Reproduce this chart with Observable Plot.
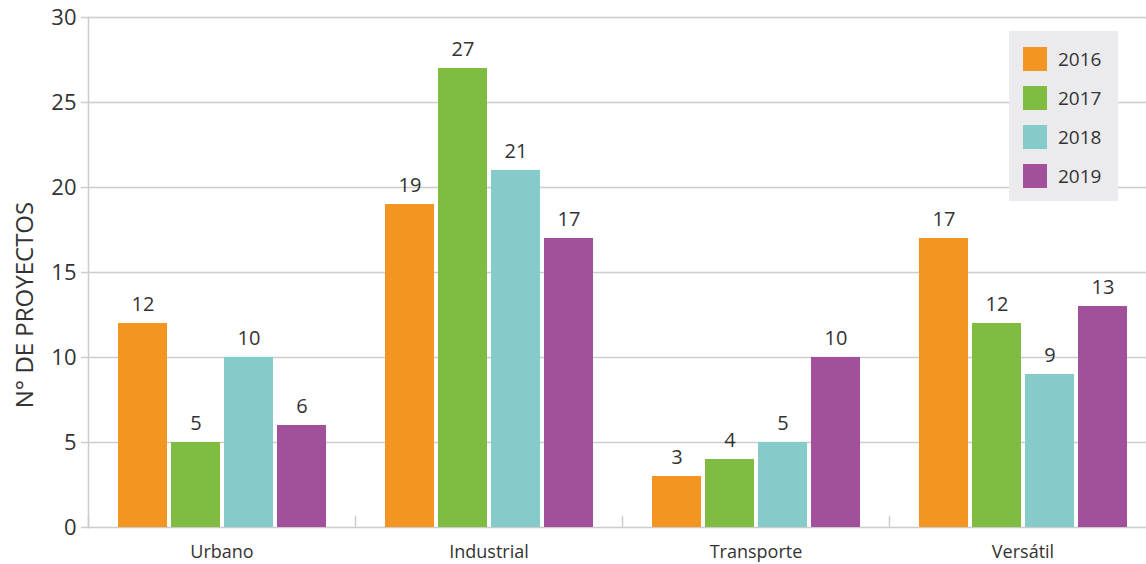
<!DOCTYPE html>
<html>
<head>
<meta charset="utf-8">
<script src="https://cdn.jsdelivr.net/npm/d3@7"></script>
<script src="https://cdn.jsdelivr.net/npm/@observablehq/plot@0.6"></script>
<style>
  html, body { margin: 0; padding: 0; background: #fff; }
  #wrap { position: relative; width: 1146px; height: 564px; font-family: "Open Sans", sans-serif; color: #333; overflow: hidden; }
  #ytitle { position: absolute; left: 23px; top: 305px; transform: translate(-50%, -50%) rotate(-90deg); font-size: 24px; white-space: nowrap; color: #333; }
  #legend { position: absolute; left: 1009px; top: 31px; width: 109px; height: 170px; background: #ebebed; box-sizing: border-box; padding-top: 16px; padding-left: 14px; }
  .lrow { display: flex; align-items: center; height: 24px; margin-bottom: 15px; font-size: 19px; color: #333; }
  .sw { width: 24px; height: 24px; margin-right: 11px; flex: none; }
</style>
</head>
<body>
<div id="wrap"></div>
<script>
const categories = ["Urbano", "Industrial", "Transporte", "Versátil"];
const years = ["2016", "2017", "2018", "2019"];
const colors = ["#F39520", "#7FBC41", "#84CBC9", "#A2509C"];
const v2016 = [12, 19, 3, 17];
const v2017 = [5, 27, 4, 12];
const v2018 = [10, 21, 5, 9];
const v2019 = [6, 17, 10, 13];
const yTicks = [0, 5, 10, 15, 20, 25, 30];
const yTitle = "N° DE PROYECTOS";

const series = [v2016, v2017, v2018, v2019];
const data = categories.flatMap((c, i) => years.map((y, j) => ({category: c, year: y, value: series[j][i]})));

const chart = Plot.plot({
  width: 1146,
  height: 564,
  marginLeft: 88,
  marginRight: -10,
  marginTop: 17,
  marginBottom: 37,
  style: {fontFamily: "'Open Sans', sans-serif", color: "#333", background: "white", overflow: "hidden"},
  fx: {domain: categories, padding: 0, label: null, axis: null},
  x: {domain: years, axis: null, paddingInner: 0.084, paddingOuter: 0.537},
  y: {domain: [0, 30], axis: null},
  color: {domain: years, range: colors},
  marks: [
    Plot.ruleY(yTicks, {stroke: "#cccccc", strokeWidth: 1.5}),
    Plot.frame({anchor: "left", stroke: "#cccccc", strokeWidth: 1.5, insetTop: 499}),
    Plot.frame({anchor: "left", stroke: "#cccccc", strokeWidth: 1.5, facetAnchor: "left"}),
    Plot.barY(data, {fx: "category", x: "year", y: "value", fill: "year"}),
    Plot.text(data, {fx: "category", x: "year", y: "value", text: d => String(d.value), dy: -13, lineAnchor: "bottom", fontSize: 20, fill: "#333"}),
    Plot.axisY({ticks: yTicks, tickSize: 7, tickPadding: 5, fontSize: 22, label: null, stroke: "#cccccc", strokeWidth: 1.5, fill: "#333"}),
    Plot.axisFx({anchor: "bottom", tickSize: 0, tickPadding: 18, fontSize: 18, label: null, fill: "#333"})
  ]
});

const wrap = document.getElementById("wrap");
wrap.appendChild(chart);

const t = document.createElement("div");
t.id = "ytitle";
t.textContent = yTitle;
wrap.appendChild(t);

const lg = document.createElement("div");
lg.id = "legend";
years.forEach((y, i) => {
  const r = document.createElement("div");
  r.className = "lrow";
  const s = document.createElement("span");
  s.className = "sw";
  s.style.background = colors[i];
  const l = document.createElement("span");
  l.textContent = y;
  r.appendChild(s);
  r.appendChild(l);
  lg.appendChild(r);
});
wrap.appendChild(lg);
</script>
</body>
</html>
